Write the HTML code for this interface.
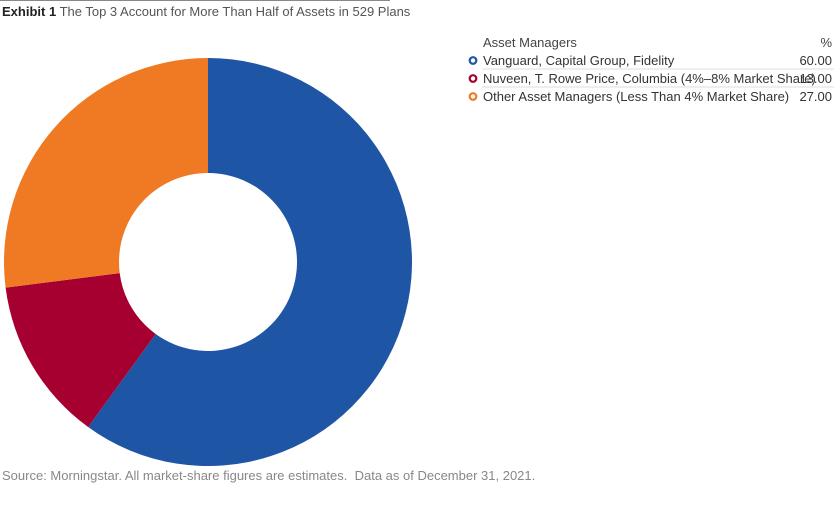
<!DOCTYPE html>
<html><head><meta charset="utf-8"><style>
body{margin:0;width:836px;height:512px;background:#fff;font-family:"Liberation Sans Narrow","Liberation Sans",sans-serif;color:#333;position:relative;overflow:hidden}
.t{position:absolute;white-space:nowrap}
</style></head><body>
<div style="position:absolute;left:0;top:0;width:390px;height:1px;background:#888"></div>
<div class="t" style="left:2px;top:4px;font-size:13px"><b style="color:#222">Exhibit 1</b> <span style="color:#555">The Top 3 Account for More Than Half of Assets in 529 Plans</span></div>
<svg width="836" height="512" style="position:absolute;left:0;top:0" id="chart"></svg>
<div class="t" style="left:2px;top:468px;font-size:13px;color:#888">Source: Morningstar. All market-share figures are estimates.&nbsp; Data as of December 31, 2021.</div>
<script>
const labels=["Vanguard, Capital Group, Fidelity","Nuveen, T. Rowe Price, Columbia (4%–8% Market Share)","Other Asset Managers (Less Than 4% Market Share)"];
const values=[60,13,27];
const colors=["#1f55a5","#a50030","#ef7a23"];
const svg=document.getElementById('chart');
const NS="http://www.w3.org/2000/svg";
const cx=208,cy=262,R=204,r=89;
const total=values.reduce((a,b)=>a+b,0);
let a0=0;
function pt(a,rad){return [cx+rad*Math.sin(a),cy-rad*Math.cos(a)];}
values.forEach((v,i)=>{
 const a1=a0+v/total*2*Math.PI;
 const large=(a1-a0)>Math.PI?1:0;
 const [x0,y0]=pt(a0,R),[x1,y1]=pt(a1,R),[x2,y2]=pt(a1,r),[x3,y3]=pt(a0,r);
 const p=document.createElementNS(NS,'path');
 p.setAttribute('d',`M${x0},${y0}A${R},${R} 0 ${large} 1 ${x1},${y1}L${x2},${y2}A${r},${r} 0 ${large} 0 ${x3},${y3}Z`);
 p.setAttribute('fill',colors[i]);
 
 
 svg.appendChild(p);
 a0=a1;
});
function txt(x,y,s,anchor,fill,name){const t=document.createElementNS(NS,'text');t.setAttribute('x',x);t.setAttribute('y',y);t.setAttribute('font-size','13');t.setAttribute('fill',fill);t.setAttribute('text-anchor',anchor);t.setAttribute('font-family','"Liberation Sans Narrow","Liberation Sans",sans-serif');t.textContent=s;


svg.appendChild(t);}
txt(483,47,"Asset Managers","start","#444","legend-header-name");
txt(832,47,"%","end","#444","legend-header-value");
labels.forEach((l,i)=>{
 const y=65+i*18;
 const c=document.createElementNS(NS,'circle');
 c.setAttribute('cx',473);c.setAttribute('cy',y-4.5);c.setAttribute('r',3.3);c.setAttribute('fill','none');c.setAttribute('stroke',colors[i]);c.setAttribute('stroke-width','2.2');
 
 
 svg.appendChild(c);
 txt(483,y,l,"start","#333",'legend-label-'+(i+1));
 txt(832,y,values[i].toFixed(2),"end","#333",'legend-value-'+(i+1));
 if(i>0){const ln=document.createElementNS(NS,'line');ln.setAttribute('x1',482);ln.setAttribute('x2',834);ln.setAttribute('y1',y-14);ln.setAttribute('y2',y-14);ln.setAttribute('stroke','#ddd');
 
 
 svg.appendChild(ln);}
});
</script>
</body></html>
